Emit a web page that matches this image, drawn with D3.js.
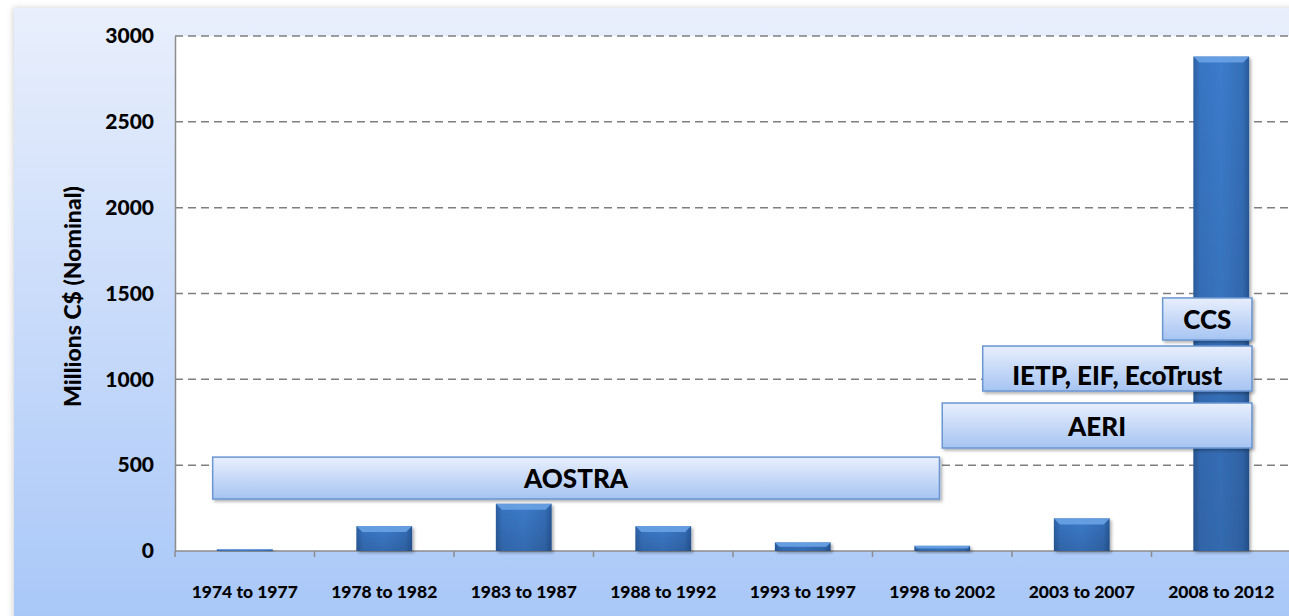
<!DOCTYPE html>
<html>
<head>
<meta charset="utf-8">
<script src="https://cdn.jsdelivr.net/npm/d3@7"></script>
<style>
  html, body { margin: 0; padding: 0; background: #fff; }
  svg text { font-family: Lato, "Open Sans", sans-serif; font-weight: 900; fill: #000; }
</style>
</head>
<body>
<div id="chart"></div>
<script>
// funding periods and totals (millions C$, nominal)
const periods = ['1974 to 1977', '1978 to 1982', '1983 to 1987', '1988 to 1992',
                 '1993 to 1997', '1998 to 2002', '2003 to 2007', '2008 to 2012'];
const funding = [10, 145, 275, 145, 50, 30, 190, 2880];
const yTicks = [0, 500, 1000, 1500, 2000, 2500, 3000];

// program banners: span in period index units, height range in millions
const programs = ['AOSTRA', 'AERI', 'IETP, EIF, EcoTrust', 'CCS'];
const programStart = [0.27, 5.5, 5.79, 7.08];
const programEnd = [5.48, 7.72, 7.72, 7.72];
const programLow = [303, 600, 932, 1229];
const programHigh = [547, 862, 1194, 1474];

const width = 1289, height = 616;
const plotLeft = 175, plotRight = 1291, plotTop = 36, plotBottom = 551;

const svg = d3.select('#chart').append('svg')
    .attr('width', width)
    .attr('height', height);

const defs = svg.append('defs');

// panel background gradient
const bg = defs.append('linearGradient').attr('id', 'panelGrad')
    .attr('x1', 0).attr('y1', 0).attr('x2', 0).attr('y2', 1);
bg.append('stop').attr('offset', '0%').attr('stop-color', '#e9effc');
bg.append('stop').attr('offset', '100%').attr('stop-color', '#a8c7f8');

// bar body gradient (rounded look)
const barGrad = defs.append('linearGradient').attr('id', 'barGrad')
    .attr('x1', 0).attr('y1', 0).attr('x2', 1).attr('y2', 0);
barGrad.append('stop').attr('offset', '0%').attr('stop-color', '#2c5fa2');
barGrad.append('stop').attr('offset', '12%').attr('stop-color', '#3874c2');
barGrad.append('stop').attr('offset', '50%').attr('stop-color', '#3c7bcb');
barGrad.append('stop').attr('offset', '88%').attr('stop-color', '#356fb9');
barGrad.append('stop').attr('offset', '100%').attr('stop-color', '#28599a');

const barShade = defs.append('linearGradient').attr('id', 'barShade')
    .attr('x1', 0).attr('y1', 0).attr('x2', 0).attr('y2', 1);
barShade.append('stop').attr('offset', '0%').attr('stop-color', '#000').attr('stop-opacity', 0);
barShade.append('stop').attr('offset', '100%').attr('stop-color', '#000').attr('stop-opacity', 0.14);

// banner gradient
const boxGrad = defs.append('linearGradient').attr('id', 'boxGrad')
    .attr('x1', 0).attr('y1', 0).attr('x2', 0).attr('y2', 1);
boxGrad.append('stop').attr('offset', '0%').attr('stop-color', '#e8effd');
boxGrad.append('stop').attr('offset', '100%').attr('stop-color', '#a6c4f2');

const shadow = defs.append('filter').attr('id', 'shadow')
    .attr('x', '-5%').attr('y', '-20%').attr('width', '115%').attr('height', '160%');
shadow.append('feDropShadow').attr('dx', 2).attr('dy', 2).attr('stdDeviation', 1.6)
    .attr('flood-color', '#000').attr('flood-opacity', 0.3);

const panelShadow = defs.append('filter').attr('id', 'panelShadow')
    .attr('x', '-2%').attr('y', '-2%').attr('width', '104%').attr('height', '104%');
panelShadow.append('feDropShadow').attr('dx', -1).attr('dy', 0).attr('stdDeviation', 3)
    .attr('flood-color', '#000').attr('flood-opacity', 0.18);

// background panel
svg.append('rect')
    .attr('x', 14).attr('y', 8)
    .attr('width', width).attr('height', height)
    .attr('fill', 'url(#panelGrad)')
    .attr('filter', 'url(#panelShadow)');

// plot area
svg.append('rect')
    .attr('x', plotLeft).attr('y', plotTop)
    .attr('width', plotRight - plotLeft).attr('height', plotBottom - plotTop)
    .attr('fill', '#fff');

const x = d3.scaleBand()
    .domain(periods)
    .range([plotLeft, plotRight])
    .paddingInner(0.6)
    .paddingOuter(0.3);

const xi = d3.scaleLinear().domain([0, periods.length]).range([plotLeft, plotRight]);

const y = d3.scaleLinear()
    .domain([0, 3000])
    .range([plotBottom, plotTop]);

// gridlines
svg.append('g')
    .selectAll('line')
    .data(yTicks.filter(d => d > 0))
    .enter()
    .append('line')
    .attr('x1', plotLeft).attr('x2', plotRight)
    .attr('y1', d => y(d)).attr('y2', d => y(d))
    .attr('stroke', '#7f7f7f')
    .attr('stroke-width', 1.5)
    .attr('stroke-dasharray', '8,5');

// y axis
const yAxis = svg.append('g')
    .attr('transform', `translate(${plotLeft},0)`)
    .call(d3.axisLeft(y).tickValues(yTicks).tickFormat(d3.format('d')).tickSize(0).tickPadding(21));
yAxis.select('.domain').attr('stroke', '#8c8c8c').attr('stroke-width', 1.5);
yAxis.selectAll('text')
    .attr('font-size', '21px')
    .attr('font-family', 'Lato, sans-serif')
    .attr('font-weight', 900)
    .attr('fill', '#000');

// y axis title
svg.append('text')
    .attr('transform', `translate(81, ${(plotTop + plotBottom) / 2 + 3}) rotate(-90)`)
    .attr('text-anchor', 'middle')
    .attr('font-size', '23px')
    .text('Millions C$ (Nominal)');

// x axis
svg.append('line')
    .attr('x1', plotLeft).attr('x2', plotRight)
    .attr('y1', plotBottom).attr('y2', plotBottom)
    .attr('stroke', '#8c8c8c').attr('stroke-width', 1.5);

svg.append('g')
    .selectAll('line')
    .data(d3.range(periods.length + 1))
    .enter()
    .append('line')
    .attr('x1', d => xi(d)).attr('x2', d => xi(d))
    .attr('y1', plotBottom).attr('y2', plotBottom + 6)
    .attr('stroke', '#8c8c8c').attr('stroke-width', 1.5);

svg.append('g')
    .selectAll('text')
    .data(periods)
    .enter()
    .append('text')
    .attr('x', d => x(d) + x.bandwidth() / 2)
    .attr('y', 598)
    .attr('text-anchor', 'middle')
    .attr('font-size', '17.5px')
    .text(d => d);

// bars
const bars = svg.append('g')
    .selectAll('g')
    .data(periods.map((p, i) => ({ period: p, value: funding[i] })))
    .enter()
    .append('g')
    .attr('filter', 'url(#shadow)');

bars.append('rect')
    .attr('x', d => x(d.period))
    .attr('y', d => y(d.value))
    .attr('width', x.bandwidth())
    .attr('height', d => y(0) - y(d.value))
    .attr('fill', 'url(#barGrad)');

bars.append('rect')
    .attr('x', d => x(d.period))
    .attr('y', d => y(d.value))
    .attr('width', x.bandwidth())
    .attr('height', d => y(0) - y(d.value))
    .attr('fill', 'url(#barShade)');

// bevel on top of each bar
bars.append('path')
    .attr('d', d => {
        const x0 = x(d.period), x1 = x0 + x.bandwidth();
        const t = y(d.value);
        const b = Math.min(6, (y(0) - t) / 2);
        return `M${x0},${t}L${x1},${t}L${x1 - b},${t + b}L${x0 + b},${t + b}Z`;
    })
    .attr('fill', '#6aa2e4')
    .attr('opacity', 0.9);

// program banners
const banners = svg.append('g')
    .selectAll('g')
    .data(programs.map((name, i) => ({
        name,
        start: programStart[i], end: programEnd[i],
        low: programLow[i], high: programHigh[i]
    })))
    .enter()
    .append('g');

banners.append('rect')
    .attr('x', d => xi(d.start))
    .attr('y', d => y(d.high))
    .attr('width', d => xi(d.end) - xi(d.start))
    .attr('height', d => y(d.low) - y(d.high))
    .attr('fill', 'url(#boxGrad)')
    .attr('stroke', '#6a96d2')
    .attr('stroke-width', 1.5)
    .attr('filter', 'url(#shadow)');

banners.append('text')
    .attr('x', d => (xi(d.start) + xi(d.end)) / 2)
    .attr('y', d => (y(d.low) + y(d.high)) / 2)
    .attr('dy', d => d.name.startsWith('IETP') ? '0.62em' : '0.4em')
    .attr('text-anchor', 'middle')
    .attr('font-size', '26px')
    .text(d => d.name);
</script>
</body>
</html>
